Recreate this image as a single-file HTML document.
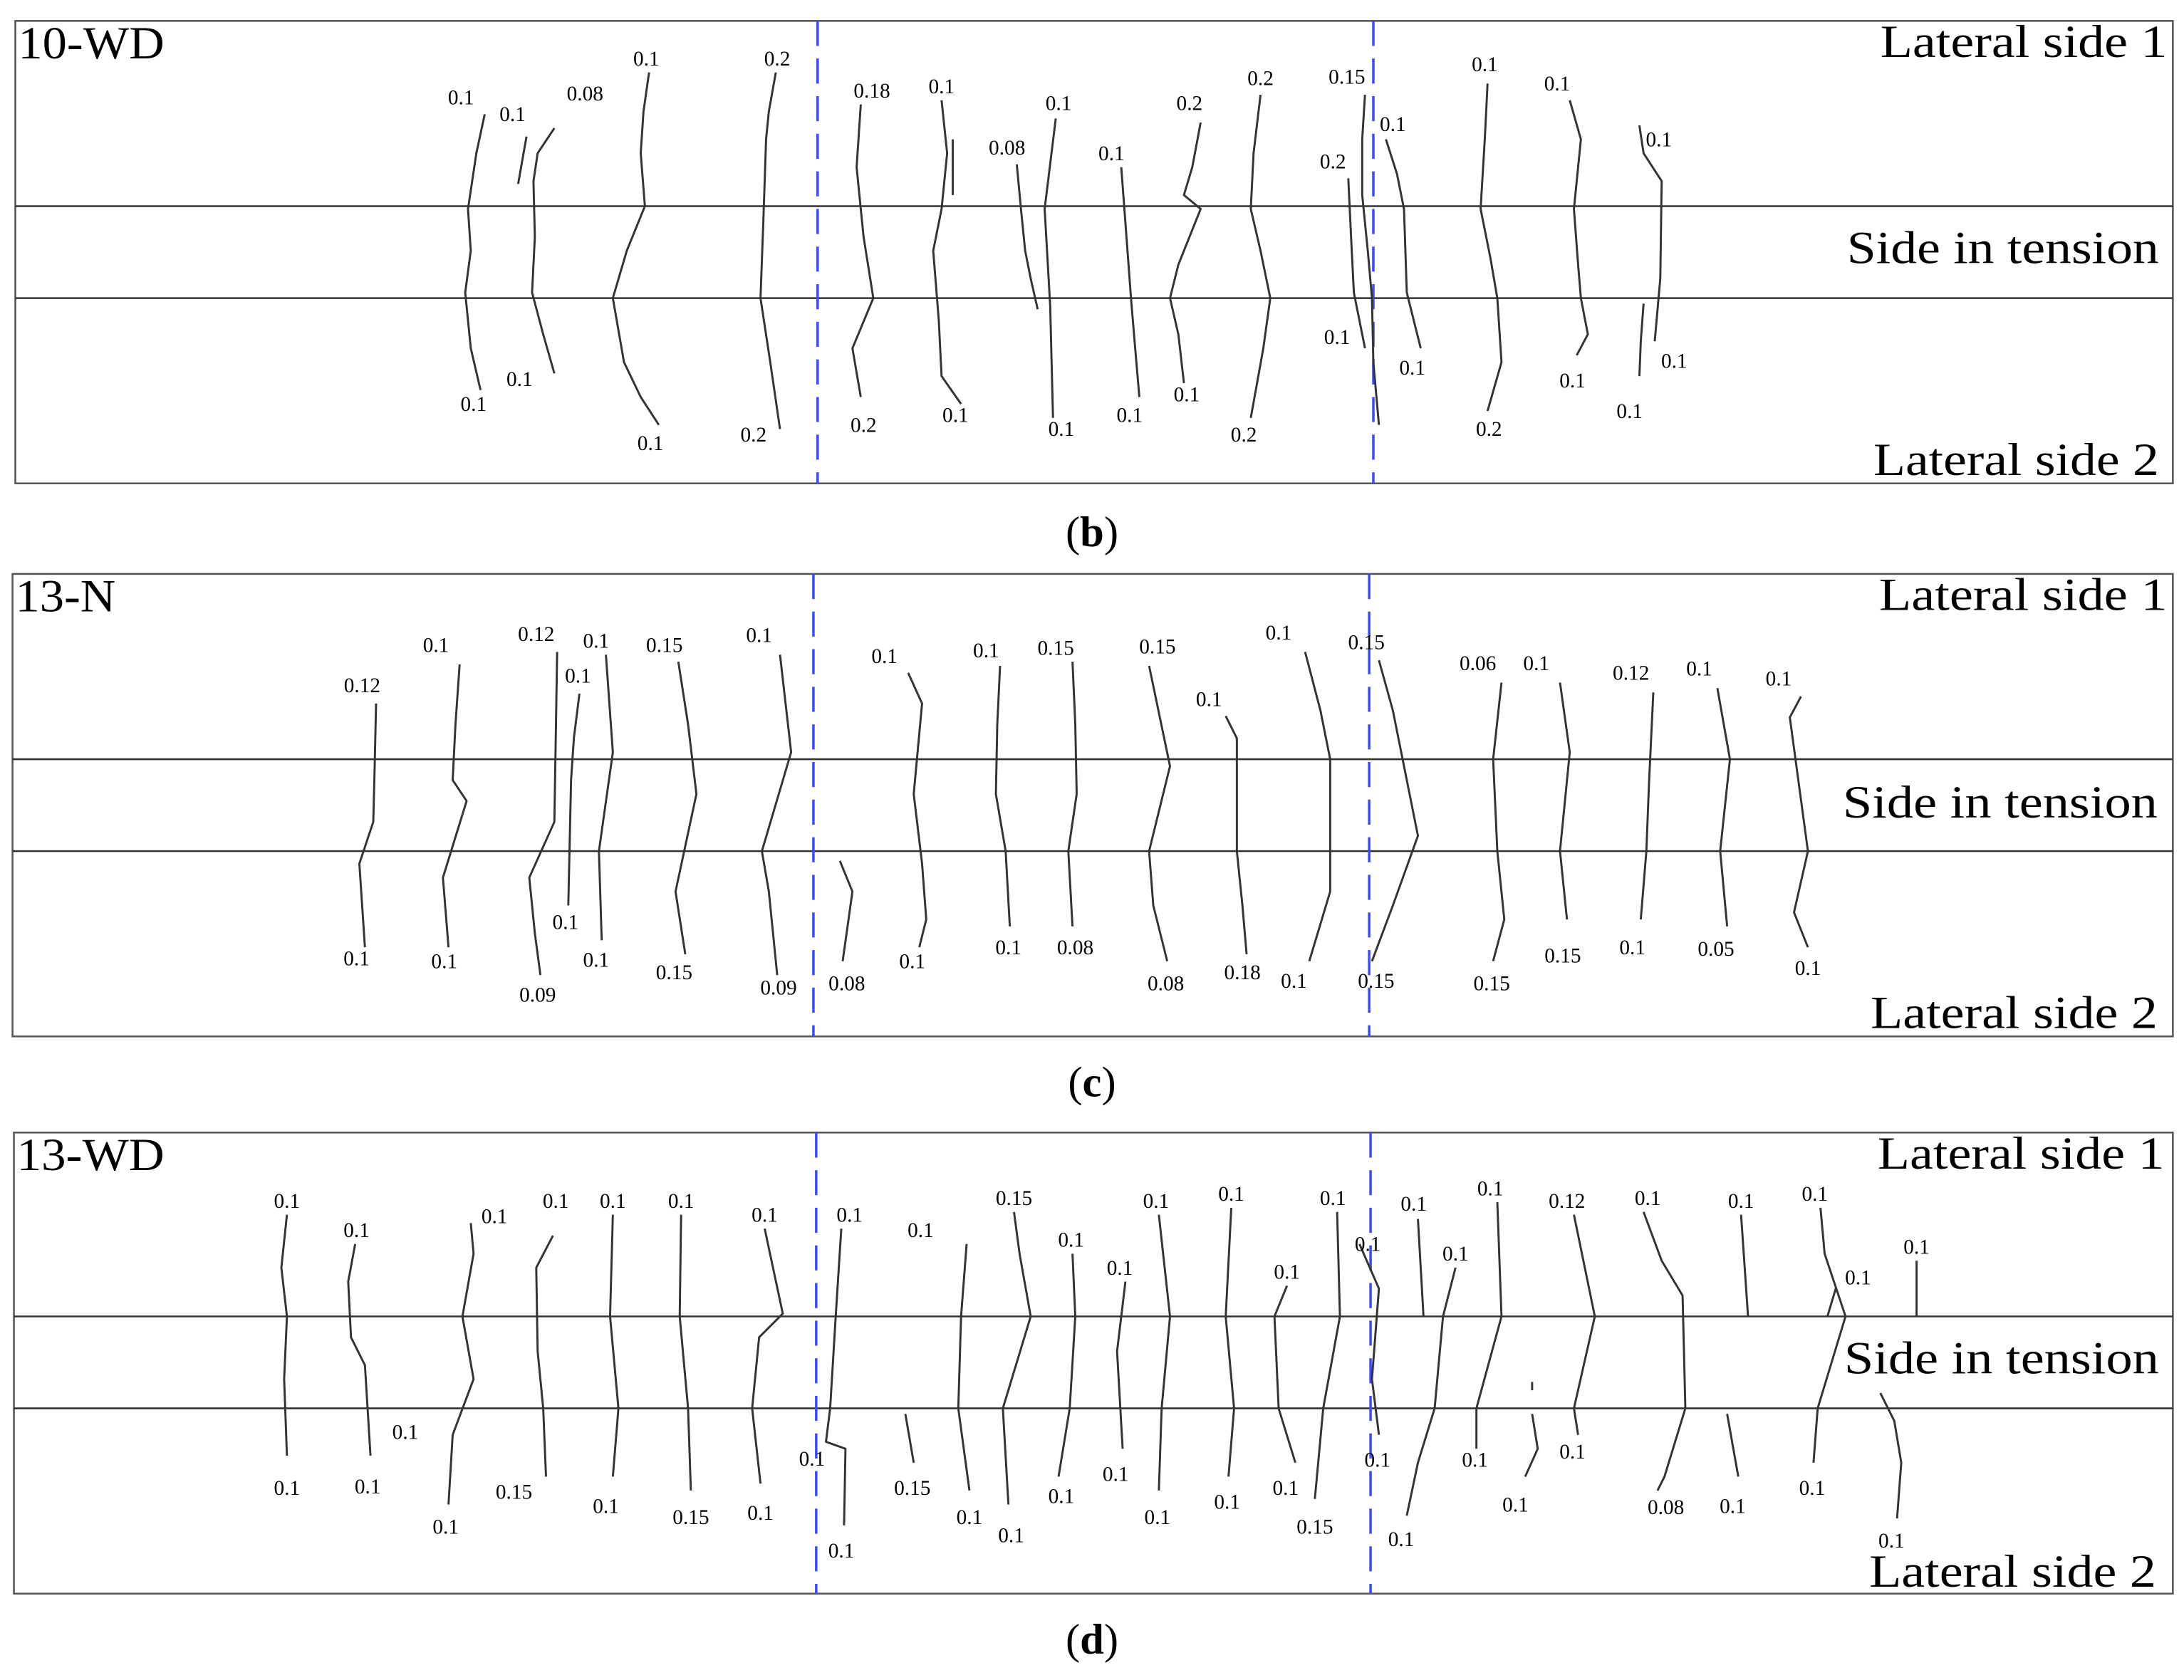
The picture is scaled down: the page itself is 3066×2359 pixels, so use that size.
<!DOCTYPE html>
<html><head><meta charset="utf-8"><style>
html,body{margin:0;padding:0;background:#fff;}
svg{display:block;}
text{font-family:"Liberation Serif",serif;fill:#000;}
.s{font-size:15px;text-anchor:middle;}
.h{font-size:33px;}
.cap{font-size:31px;text-anchor:middle;}
.f{fill:none;stroke:#555;stroke-width:1.3;}
.c{fill:none;stroke:#333;stroke-width:1.5;stroke-linejoin:round;}
.b{stroke:#3a4bff;stroke-width:1.8;stroke-dasharray:18,9;}
.bl{stroke:#333;stroke-width:1.3;}
</style></head><body>
<svg width="3066" height="2359" viewBox="0 0 1568 1206" preserveAspectRatio="none" xmlns="http://www.w3.org/2000/svg">
<!-- Panel b -->
<rect x="11" y="15" width="1549" height="332" class="f"/>
<line x1="11" y1="148" x2="1560" y2="148" class="bl"/>
<line x1="11" y1="214" x2="1560" y2="214" class="bl"/>
<line x1="587" y1="15" x2="587" y2="347" class="b"/>
<line x1="986" y1="15" x2="986" y2="347" class="b"/>
<text x="13" y="42" class="h" textLength="105" lengthAdjust="spacingAndGlyphs">10-WD</text>
<text x="1350" y="41" class="h" textLength="206" lengthAdjust="spacingAndGlyphs">Lateral side 1</text>
<text x="1326" y="189" class="h" textLength="224" lengthAdjust="spacingAndGlyphs">Side in tension</text>
<text x="1345" y="341" class="h" textLength="205" lengthAdjust="spacingAndGlyphs">Lateral side 2</text>
<text x="784" y="392" class="cap">(<tspan font-weight="bold">b</tspan>)</text>
<g class="c">
<polyline points="348,82 342,110 336,150 338,180 334,210 338,250 345,280"/>
<polyline points="378,98 375,115 372,132"/>
<polyline points="398,92 386,110 383,130 384,170 382,210 390,240 398,268"/>
<polyline points="466,52 462,80 460,110 463,148 450,180 440,214 448,260 460,285 473,305"/>
<polyline points="557,52 552,80 550,100 548,160 546,214 553,260 560,308"/>
<polyline points="618,75 615,120 620,170 627,214 612,250 618,285"/>
<polyline points="676,72 680,110 676,150 670,180 674,230 676,270 690,290"/>
<polyline points="684,100 684,140"/>
<polyline points="730,118 733,150 736,180 740,200 745,222"/>
<polyline points="758,85 750,150 754,220 756,300"/>
<polyline points="805,120 808,160 812,214 815,250 818,285"/>
<polyline points="862,88 856,120 850,140 862,150 846,190 840,214 846,240 850,275"/>
<polyline points="905,68 900,110 898,150 905,180 912,214 907,250 898,300"/>
<polyline points="968,128 970,170 972,210 980,250"/>
<polyline points="980,68 978,100 978,140 982,180 985,214 986,260 990,305"/>
<polyline points="995,100 1003,125 1008,150 1010,210 1020,250"/>
<polyline points="1068,60 1066,100 1063,150 1070,185 1075,214 1078,260 1068,295"/>
<polyline points="1127,72 1135,100 1130,150 1133,190 1135,214 1140,240 1132,255"/>
<polyline points="1177,90 1180,110 1193,130 1192,200 1188,245"/>
<polyline points="1180,218 1178,245 1177,270"/>
</g>
<g class="s">
<text x="331" y="75">0.1</text><text x="340" y="295">0.1</text>
<text x="368" y="87">0.1</text>
<text x="420" y="72">0.08</text><text x="373" y="277">0.1</text>
<text x="464" y="47">0.1</text><text x="467" y="323">0.1</text>
<text x="558" y="47">0.2</text><text x="541" y="317">0.2</text>
<text x="626" y="70">0.18</text><text x="620" y="310">0.2</text>
<text x="676" y="67">0.1</text><text x="686" y="303">0.1</text>
<text x="723" y="111">0.08</text>
<text x="760" y="79">0.1</text><text x="762" y="313">0.1</text>
<text x="798" y="115">0.1</text><text x="811" y="303">0.1</text>
<text x="854" y="79">0.2</text><text x="852" y="288">0.1</text>
<text x="905" y="61">0.2</text><text x="893" y="317">0.2</text>
<text x="957" y="121">0.2</text><text x="960" y="247">0.1</text>
<text x="967" y="60">0.15</text>
<text x="1000" y="94">0.1</text><text x="1014" y="269">0.1</text>
<text x="1066" y="51">0.1</text><text x="1069" y="313">0.2</text>
<text x="1118" y="65">0.1</text><text x="1129" y="278">0.1</text>
<text x="1191" y="105">0.1</text><text x="1202" y="264">0.1</text>
<text x="1170" y="300">0.1</text>
</g>

<!-- Panel c -->
<rect x="9" y="412" width="1551" height="332" class="f"/>
<line x1="9" y1="545" x2="1560" y2="545" class="bl"/>
<line x1="9" y1="611" x2="1560" y2="611" class="bl"/>
<line x1="584" y1="412" x2="584" y2="744" class="b"/>
<line x1="983" y1="412" x2="983" y2="744" class="b"/>
<text x="11" y="439" class="h" textLength="72" lengthAdjust="spacingAndGlyphs">13-N</text>
<text x="1349" y="438" class="h" textLength="207" lengthAdjust="spacingAndGlyphs">Lateral side 1</text>
<text x="1323" y="587" class="h" textLength="226" lengthAdjust="spacingAndGlyphs">Side in tension</text>
<text x="1343" y="738" class="h" textLength="206" lengthAdjust="spacingAndGlyphs">Lateral side 2</text>
<text x="784" y="787" class="cap">(<tspan font-weight="bold">c</tspan>)</text>
<g class="c">
<polyline points="270,505 269,550 268,590 258,620 262,680"/>
<polyline points="330,477 327,520 325,560 335,575 318,630 322,680"/>
<polyline points="400,468 399,530 398,590 380,630 384,670 388,700"/>
<polyline points="416,498 412,530 410,560 408,650"/>
<polyline points="435,470 440,540 430,611 432,675"/>
<polyline points="487,475 494,520 500,570 485,640 492,685"/>
<polyline points="560,470 568,540 547,611 552,640 558,700"/>
<polyline points="603,618 612,640 605,690"/>
<polyline points="652,483 662,505 656,570 662,620 665,660 660,680"/>
<polyline points="718,478 716,520 715,570 722,611 725,665"/>
<polyline points="770,475 772,520 773,570 767,611 770,665"/>
<polyline points="825,478 840,550 825,611 828,650 838,690"/>
<polyline points="880,514 888,530 888,611 892,650 895,685"/>
<polyline points="937,468 948,510 955,545 955,640 940,690"/>
<polyline points="990,474 1000,510 1018,600 1000,650 985,690"/>
<polyline points="1078,490 1072,545 1075,611 1080,660 1072,690"/>
<polyline points="1120,490 1127,540 1120,611 1125,660"/>
<polyline points="1187,497 1184,560 1182,611 1178,660"/>
<polyline points="1233,494 1242,545 1235,611 1240,665"/>
<polyline points="1293,500 1285,515 1298,611 1288,655 1298,680"/>
</g>
<g class="s">
<text x="260" y="497">0.12</text><text x="256" y="693">0.1</text>
<text x="313" y="468">0.1</text><text x="319" y="695">0.1</text>
<text x="385" y="460">0.12</text><text x="386" y="719">0.09</text>
<text x="415" y="490">0.1</text><text x="406" y="667">0.1</text>
<text x="428" y="465">0.1</text><text x="428" y="694">0.1</text>
<text x="477" y="468">0.15</text><text x="484" y="703">0.15</text>
<text x="545" y="461">0.1</text><text x="559" y="714">0.09</text>
<text x="608" y="711">0.08</text>
<text x="635" y="476">0.1</text><text x="655" y="695">0.1</text>
<text x="708" y="472">0.1</text><text x="724" y="685">0.1</text>
<text x="758" y="470">0.15</text><text x="772" y="685">0.08</text>
<text x="831" y="469">0.15</text><text x="837" y="711">0.08</text>
<text x="868" y="507">0.1</text><text x="892" y="703">0.18</text>
<text x="918" y="459">0.1</text><text x="929" y="709">0.1</text>
<text x="981" y="466">0.15</text><text x="988" y="709">0.15</text>
<text x="1061" y="481">0.06</text><text x="1071" y="711">0.15</text>
<text x="1103" y="481">0.1</text><text x="1122" y="691">0.15</text>
<text x="1171" y="488">0.12</text><text x="1172" y="685">0.1</text>
<text x="1220" y="485">0.1</text><text x="1232" y="686">0.05</text>
<text x="1277" y="492">0.1</text><text x="1298" y="700">0.1</text>
</g>

<!-- Panel d -->
<rect x="10" y="813" width="1550" height="331" class="f"/>
<line x1="10" y1="945" x2="1560" y2="945" class="bl"/>
<line x1="10" y1="1011" x2="1560" y2="1011" class="bl"/>
<line x1="586" y1="813" x2="586" y2="1144" class="b"/>
<line x1="984" y1="813" x2="984" y2="1144" class="b"/>
<text x="12" y="840" class="h" textLength="106" lengthAdjust="spacingAndGlyphs">13-WD</text>
<text x="1348" y="839" class="h" textLength="206" lengthAdjust="spacingAndGlyphs">Lateral side 1</text>
<text x="1324" y="986" class="h" textLength="226" lengthAdjust="spacingAndGlyphs">Side in tension</text>
<text x="1342" y="1139" class="h" textLength="206" lengthAdjust="spacingAndGlyphs">Lateral side 2</text>
<text x="784" y="1187" class="cap">(<tspan font-weight="bold">d</tspan>)</text>
<g class="c">
<polyline points="206,872 202,910 206,945 204,990 206,1045"/>
<polyline points="255,893 250,920 252,960 262,980 266,1045"/>
<polyline points="338,878 340,900 332,945 340,990 325,1030 322,1080"/>
<polyline points="397,887 385,910 386,970 390,1011 392,1060"/>
<polyline points="440,872 438,945 444,1011 440,1060"/>
<polyline points="489,872 488,945 494,1011 496,1070"/>
<polyline points="549,882 562,943 545,960 540,1011 546,1065"/>
<polyline points="604,882 600,945 596,1011 593,1035 607,1040 606,1095"/>
<polyline points="650,1015 656,1050"/>
<polyline points="694,893 690,945 688,1011 696,1070"/>
<polyline points="728,870 732,900 740,945 720,1011 724,1080"/>
<polyline points="770,900 772,945 768,1011 760,1060"/>
<polyline points="808,920 802,970 806,1040"/>
<polyline points="832,872 840,945 834,1011 832,1070"/>
<polyline points="884,867 880,945 886,1011 882,1060"/>
<polyline points="924,923 915,945 918,1011 930,1050"/>
<polyline points="960,870 962,945 950,1011 944,1076"/>
<polyline points="976,893 990,925 985,990 990,1030"/>
<polyline points="1018,875 1022,945"/>
<polyline points="1045,910 1036,945 1030,1011 1018,1050 1010,1088"/>
<polyline points="1075,863 1078,945 1060,1011 1060,1040"/>
<polyline points="1130,872 1145,945 1130,1011 1133,1030"/>
<polyline points="1180,870 1193,905 1208,930 1210,1011 1195,1060 1190,1070"/>
<polyline points="1100,992 1100,998"/>
<polyline points="1100,1015 1104,1040 1095,1060"/>
<polyline points="1250,872 1255,945"/>
<polyline points="1240,1015 1248,1060"/>
<polyline points="1307,867 1310,900 1325,945 1305,1011 1302,1050"/>
<polyline points="1318,925 1312,945"/>
<polyline points="1376,905 1376,945"/>
<polyline points="1350,1000 1360,1020 1365,1050 1362,1090"/>
</g>
<g class="s">
<text x="206" y="867">0.1</text><text x="256" y="888">0.1</text><text x="355" y="878">0.1</text>
<text x="399" y="867">0.1</text><text x="440" y="867">0.1</text><text x="489" y="867">0.1</text>
<text x="549" y="877">0.1</text><text x="610" y="877">0.1</text><text x="661" y="888">0.1</text>
<text x="728" y="865">0.15</text><text x="769" y="895">0.1</text><text x="804" y="915">0.1</text>
<text x="830" y="867">0.1</text><text x="884" y="862">0.1</text><text x="924" y="918">0.1</text>
<text x="957" y="865">0.1</text><text x="982" y="898">0.1</text><text x="1015" y="869">0.1</text>
<text x="1045" y="905">0.1</text><text x="1070" y="858">0.1</text><text x="1125" y="867">0.12</text>
<text x="1183" y="865">0.1</text><text x="1250" y="867">0.1</text><text x="1303" y="862">0.1</text>
<text x="1334" y="922">0.1</text><text x="1376" y="900">0.1</text>
<text x="206" y="1073">0.1</text><text x="264" y="1072">0.1</text><text x="291" y="1033">0.1</text>
<text x="320" y="1101">0.1</text><text x="369" y="1076">0.15</text><text x="435" y="1086">0.1</text>
<text x="496" y="1094">0.15</text><text x="546" y="1091">0.1</text><text x="583" y="1052">0.1</text>
<text x="604" y="1118">0.1</text><text x="655" y="1073">0.15</text><text x="696" y="1094">0.1</text>
<text x="726" y="1107">0.1</text><text x="762" y="1079">0.1</text><text x="801" y="1063">0.1</text>
<text x="831" y="1094">0.1</text><text x="881" y="1083">0.1</text><text x="923" y="1073">0.1</text>
<text x="944" y="1101">0.15</text><text x="989" y="1053">0.1</text><text x="1006" y="1110">0.1</text>
<text x="1059" y="1053">0.1</text><text x="1088" y="1085">0.1</text><text x="1129" y="1047">0.1</text>
<text x="1196" y="1087">0.08</text><text x="1244" y="1086">0.1</text><text x="1301" y="1073">0.1</text>
<text x="1358" y="1111">0.1</text>
</g>
</svg>
</body></html>
